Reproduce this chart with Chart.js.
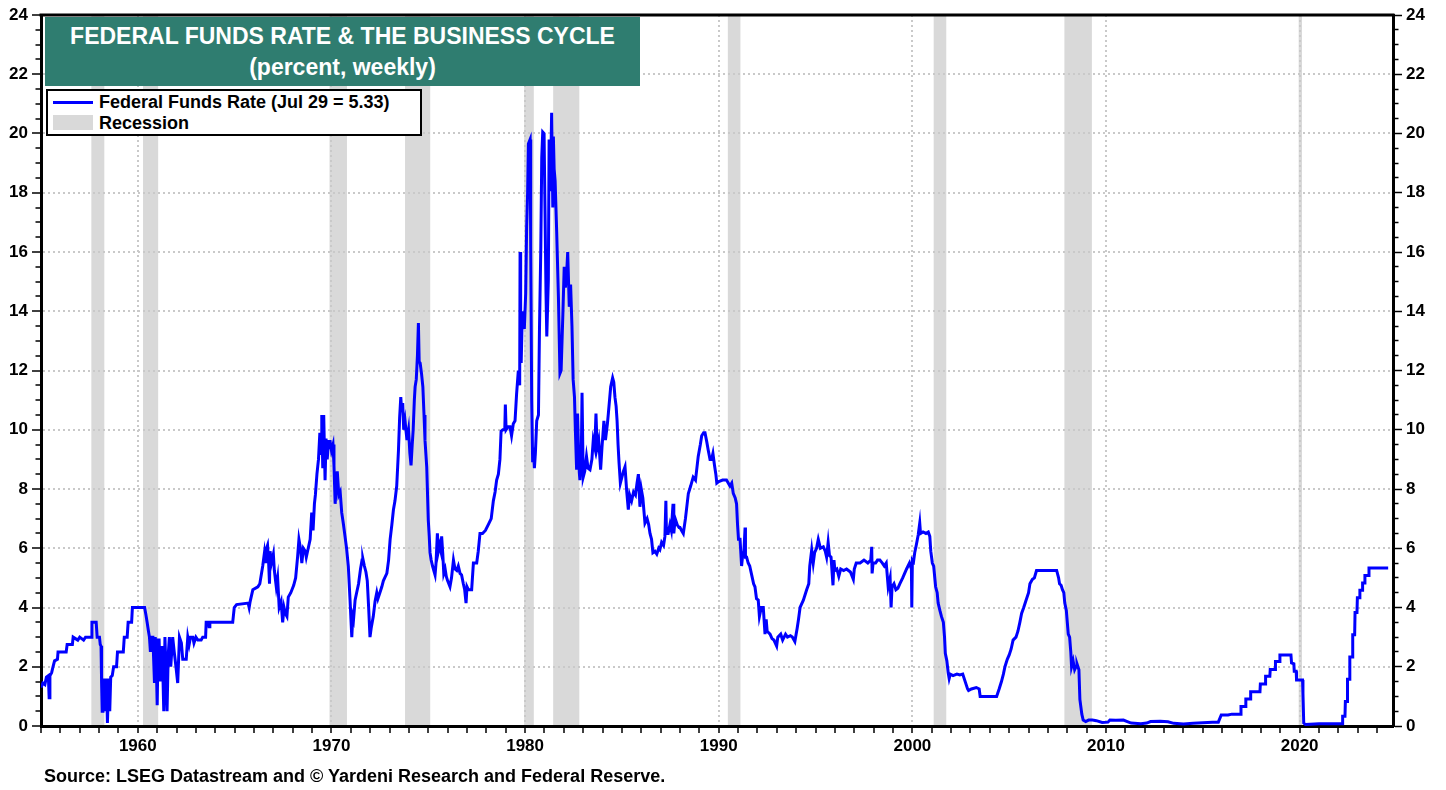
<!DOCTYPE html>
<html>
<head>
<meta charset="utf-8">
<script src="https://cdn.jsdelivr.net/npm/chart.js@4.4.1/dist/chart.umd.min.js"></script>
<style>
  html, body { margin: 0; padding: 0; background: #fff; }
  #wrap { position: relative; width: 1446px; height: 790px; overflow: hidden; font-family: "Liberation Sans", Arial, sans-serif; }
  #c { position: absolute; left: 0; top: 0; }
  #title { position: absolute; left: 45px; top: 17px; width: 595px; height: 69px; background: #2f7d70; color: #fff;
           font: bold 23px "Liberation Sans", Arial, sans-serif; text-align: center; line-height: 31px; padding-top: 4px; box-sizing: border-box; }
  #legend { position: absolute; left: 46px; top: 89px; width: 376px; height: 47px; border: 2px solid #000; background: #fff; box-sizing: border-box; }
  .lg-line { position: absolute; left: 5px; top: 10px; width: 40px; height: 3px; background: #0000ff; }
  .lg-rect { position: absolute; left: 5px; top: 24px; width: 40px; height: 15px; background: #d9d9d9; }
  .lg-text { position: absolute; left: 51px; font: bold 18px "Liberation Sans", Arial, sans-serif; line-height: 20px; color: #000; white-space: nowrap; }
  #source { position: absolute; left: 44px; top: 766px; font: bold 18px "Liberation Sans", Arial, sans-serif; line-height: 20px; color: #000; white-space: nowrap; }
</style>
</head>
<body>
<div id="wrap">
  <canvas id="c" width="1446" height="790"></canvas>
  <div id="title">FEDERAL FUNDS RATE &amp; THE BUSINESS CYCLE<br>(percent, weekly)</div>
  <div id="legend">
    <div class="lg-line"></div><div class="lg-text" style="top:1px">Federal Funds Rate (Jul 29 = 5.33)</div>
    <div class="lg-rect"></div><div class="lg-text" style="top:22px">Recession</div>
  </div>
  <div id="source">Source: LSEG Datastream and © Yardeni Research and Federal Reserve.</div>
</div>
<script>
// ---- Data (decimal year, percent) ----
const ffr1950s = [
  [1955.00,1.30],[1955.10,1.45],[1955.20,1.40],[1955.28,1.65],[1955.38,1.70],[1955.42,0.95],[1955.46,1.70],
  [1955.55,1.80],[1955.62,2.00],[1955.70,2.20],[1955.85,2.25],[1955.88,2.50],[1956.30,2.50],[1956.35,2.75],
  [1956.62,2.75],[1956.66,3.00],[1956.90,2.90],[1957.00,3.00],[1957.20,2.90],[1957.30,3.00],[1957.60,3.00],
  [1957.63,3.50],[1957.85,3.50],[1957.90,3.00],[1958.02,3.00],[1958.06,2.75],[1958.10,2.70],[1958.13,1.45],
  [1958.16,0.50],[1958.20,1.60],[1958.24,0.60],[1958.28,1.60],[1958.33,0.50],[1958.38,1.60],[1958.43,0.10],
  [1958.46,0.10],[1958.50,1.60],[1958.55,0.50],[1958.60,1.65],[1958.68,1.70],[1958.75,2.00],[1958.90,2.00],
  [1958.95,2.50],[1959.25,2.50],[1959.30,3.00],[1959.45,3.00],[1959.50,3.50],[1959.68,3.50],[1959.72,4.00]
];
const ffr1960s = [
  [1960.35,4.00],[1960.42,3.75],[1960.48,3.50],[1960.55,3.20],[1960.60,3.00],[1960.65,2.50],[1960.70,3.00],
  [1960.78,3.00],[1960.82,2.20],[1960.86,1.45],[1960.90,3.00],[1960.95,2.20],[1961.00,0.70],[1961.05,2.90],
  [1961.10,2.90],[1961.15,1.50],[1961.20,2.30],[1961.25,2.70],[1961.30,1.60],[1961.34,0.50],[1961.40,3.00],
  [1961.45,2.00],[1961.51,0.50],[1961.57,2.40],[1961.63,3.00],[1961.70,2.00],[1961.80,3.00],[1961.88,2.50],
  [1961.97,2.00],[1962.06,1.45],[1962.15,3.00],[1962.25,2.80],[1962.32,2.25],[1962.50,2.25],[1962.58,3.00],
  [1962.65,2.75],[1962.72,3.00],[1962.84,3.00],[1962.90,2.80],[1963.00,3.00],[1963.10,2.90],[1963.27,2.90],
  [1963.35,3.00],[1963.50,3.00],[1963.53,3.50],[1963.65,3.50],[1963.68,3.35],[1963.72,3.50],[1964.90,3.50],
  [1964.98,4.00],[1965.10,4.10],[1965.70,4.15],[1965.75,4.00],[1965.80,4.20],[1965.94,4.60],[1966.20,4.70],
  [1966.30,4.80],[1966.45,5.40],[1966.54,5.85],[1966.60,5.50],[1966.65,6.00],[1966.70,6.10],[1966.75,5.60],
  [1966.80,4.80],[1966.83,5.90],[1966.90,5.50],[1967.00,5.80],[1967.05,5.25],[1967.15,4.70],[1967.22,5.00],
  [1967.30,4.00],[1967.40,4.20],[1967.48,3.50],[1967.55,4.00],[1967.62,3.80],[1967.70,3.70],[1967.77,4.35],
  [1967.90,4.50],[1968.05,4.75],[1968.15,5.00],[1968.25,5.70],[1968.32,6.30],[1968.40,6.00],[1968.47,5.50],
  [1968.55,6.00],[1968.65,5.90],[1968.70,5.70],[1968.80,6.00],[1968.90,6.30],[1968.98,7.20],[1969.05,6.60],
  [1969.12,7.50],[1969.17,7.80],[1969.25,8.50],[1969.33,9.00],[1969.40,9.90],[1969.46,9.20],[1969.50,10.50],
  [1969.55,8.70],[1969.60,10.50],[1969.67,8.30],[1969.72,9.70],[1969.78,9.00],[1969.85,9.60],[1969.93,9.60]
];
const ffr1970s = [
  [1970.00,9.30],[1970.08,9.50],[1970.13,8.80],[1970.19,7.50],[1970.24,8.00],[1970.30,8.60],[1970.38,7.80],
  [1970.45,7.90],[1970.53,7.20],[1970.62,6.80],[1970.70,6.40],[1970.78,6.00],[1970.87,5.40],[1970.96,4.25],
  [1971.05,3.00],[1971.10,3.70],[1971.14,3.60],[1971.22,4.25],[1971.30,4.50],[1971.40,4.80],[1971.50,5.30],
  [1971.58,5.60],[1971.62,5.65],[1971.70,5.40],[1971.78,5.20],[1971.85,4.90],[1971.92,4.00],[1971.99,3.00],
  [1972.05,3.30],[1972.16,3.70],[1972.25,4.20],[1972.34,4.50],[1972.40,4.30],[1972.50,4.50],[1972.60,4.70],
  [1972.68,4.90],[1972.75,5.00],[1972.86,5.15],[1972.95,5.60],[1973.03,6.30],[1973.12,6.80],[1973.20,7.30],
  [1973.28,7.60],[1973.37,8.10],[1973.46,9.30],[1973.52,10.40],[1973.58,11.10],[1973.63,10.60],[1973.68,10.90],
  [1973.73,10.00],[1973.80,10.30],[1973.86,9.90],[1973.90,9.65],[1973.98,10.00],[1974.05,9.20],[1974.11,8.80],
  [1974.17,9.50],[1974.22,10.00],[1974.28,11.00],[1974.32,11.45],[1974.38,11.70],[1974.44,12.50],[1974.49,13.60],
  [1974.53,12.30],[1974.58,12.25],[1974.65,11.90],[1974.72,11.45],[1974.78,10.50],[1974.83,9.65],[1974.92,8.75],
  [1975.00,6.95],[1975.05,6.40],[1975.09,5.85],[1975.15,5.60],[1975.22,5.40],[1975.35,5.10],[1975.40,5.50],
  [1975.47,6.50],[1975.52,5.90],[1975.58,6.10],[1975.65,5.90],[1975.69,6.40],[1975.75,5.80],[1975.80,5.15],
  [1975.87,5.30],[1975.93,5.05],[1976.00,4.90],[1976.12,4.70],[1976.20,5.00],[1976.30,5.60],[1976.38,5.30],
  [1976.47,5.25],[1976.55,5.40],[1976.64,5.15],[1976.72,5.10],[1976.81,4.80],[1976.88,4.60],[1976.95,4.15],
  [1977.00,4.70],[1977.07,4.60],[1977.24,4.60],[1977.33,5.50],[1977.50,5.50],[1977.58,5.90],[1977.67,6.50],
  [1977.80,6.50],[1977.95,6.60],[1978.10,6.80],[1978.25,7.00],[1978.36,7.60],[1978.45,7.90],[1978.53,8.30],
  [1978.62,8.50],[1978.70,9.00],[1978.76,9.95],[1978.85,10.00],[1978.95,10.00],[1978.98,10.85],[1979.02,10.00],
  [1979.12,10.10],[1979.22,10.10],[1979.30,9.80],[1979.39,10.20],[1979.48,10.30],[1979.56,11.20],[1979.65,12.00],
  [1979.72,11.50],[1979.74,16.00],[1979.77,12.30],[1979.80,12.30],[1979.84,13.50],[1979.88,14.00],[1979.96,13.40]
];
const ffr1980s = [
  [1980.03,14.60],[1980.08,16.85],[1980.13,18.00],[1980.17,19.65],[1980.26,19.80],[1980.29,16.20],[1980.34,11.00],
  [1980.39,8.90],[1980.43,9.40],[1980.48,8.70],[1980.53,9.20],[1980.60,10.30],[1980.69,10.50],[1980.74,13.30],
  [1980.81,16.10],[1980.86,19.20],[1980.91,20.05],[1980.98,20.00],[1981.03,17.30],[1981.08,14.60],[1981.12,13.15],
  [1981.20,15.05],[1981.24,19.80],[1981.29,18.10],[1981.33,19.00],[1981.37,20.70],[1981.43,17.50],[1981.46,19.90],
  [1981.50,18.80],[1981.55,18.40],[1981.63,16.70],[1981.72,14.50],[1981.80,11.90],[1981.86,12.00],[1981.95,13.90],
  [1982.02,15.50],[1982.08,14.80],[1982.14,15.20],[1982.20,16.00],[1982.28,14.15],[1982.35,14.90],[1982.42,13.50],
  [1982.48,11.70],[1982.55,11.10],[1982.60,9.90],[1982.66,8.65],[1982.71,10.55],[1982.76,9.30],[1982.80,8.55],
  [1982.83,8.30],[1982.90,9.00],[1982.94,11.25],[1983.00,8.40],[1983.08,8.60],[1983.17,9.10],[1983.25,8.70],
  [1983.35,8.65],[1983.45,9.00],[1983.52,9.65],[1983.60,9.40],[1983.66,10.55],[1983.72,9.40],[1983.80,9.65],
  [1983.90,8.65],[1983.97,9.40],[1984.07,10.30],[1984.15,9.65],[1984.25,10.20],[1984.30,10.55],[1984.36,11.00],
  [1984.42,11.45],[1984.52,11.75],[1984.58,11.60],[1984.64,11.10],[1984.70,10.80],[1984.75,10.30],[1984.80,9.50],
  [1984.85,8.90],[1984.92,8.20],[1985.00,8.40],[1985.08,8.60],[1985.16,8.75],[1985.25,7.90],[1985.33,7.30],
  [1985.40,7.80],[1985.50,7.60],[1985.60,7.90],[1985.70,7.80],[1985.78,8.20],[1985.85,8.50],[1985.93,7.40],
  [1986.00,8.00],[1986.08,7.70],[1986.19,6.85],[1986.30,7.00],[1986.38,6.80],[1986.45,6.50],[1986.53,6.30],
  [1986.60,5.85],[1986.70,5.90],[1986.80,5.80],[1986.90,6.00],[1986.96,5.95],[1987.05,6.20],[1987.15,6.10],
  [1987.22,6.40],[1987.27,7.60],[1987.30,6.50],[1987.39,6.50],[1987.48,6.80],[1987.55,6.60],[1987.64,7.50],
  [1987.68,6.50],[1987.75,7.00],[1987.85,6.80],[1987.95,6.70],[1988.00,6.70],[1988.08,6.60],[1988.17,6.50],
  [1988.28,7.00],[1988.43,7.85],[1988.55,8.10],[1988.68,8.40],[1988.80,8.30],[1988.94,9.10],[1989.05,9.50],
  [1989.12,9.80],[1989.22,9.90],[1989.29,9.90],[1989.38,9.60],[1989.46,9.30],[1989.55,9.00],[1989.63,9.00],
  [1989.70,9.20],[1989.78,8.80],[1989.85,8.50],[1989.90,8.20]
];
const ffr1990s = [
  [1990.00,8.25],[1990.20,8.30],[1990.40,8.30],[1990.58,8.10],[1990.67,8.20],[1990.75,7.85],[1990.85,7.70],
  [1990.92,7.50],[1990.97,6.80],[1991.02,6.30],[1991.10,6.30],[1991.18,5.40],[1991.24,5.80],[1991.30,5.90],
  [1991.36,6.70],[1991.38,5.70],[1991.44,5.70],[1991.52,5.50],[1991.60,5.40],[1991.70,5.10],[1991.80,4.80],
  [1991.87,4.70],[1991.95,4.30],[1992.04,4.25],[1992.10,3.70],[1992.13,3.70],[1992.20,4.00],[1992.30,4.00],
  [1992.35,3.50],[1992.39,3.10],[1992.45,3.60],[1992.50,3.20],[1992.65,3.10],[1992.75,2.95],[1992.85,2.90],
  [1992.99,2.70],[1993.05,3.00],[1993.20,3.10],[1993.30,2.90],[1993.45,3.10],[1993.55,3.00],[1993.70,3.05],
  [1993.80,3.00],[1993.93,2.85],[1994.05,3.30],[1994.12,3.60],[1994.20,4.00],[1994.37,4.25],[1994.54,4.60],
  [1994.65,4.80],[1994.70,5.40],[1994.80,5.95],[1994.88,5.50],[1994.95,5.85],[1995.05,6.00],[1995.14,6.30],
  [1995.25,6.00],[1995.40,6.05],[1995.50,5.90],[1995.57,5.70],[1995.65,6.20],[1995.72,5.75],[1995.80,5.70],
  [1995.90,4.75],[1995.95,5.60],[1996.00,5.25],[1996.10,5.30],[1996.20,5.05],[1996.30,5.30],[1996.45,5.25],
  [1996.60,5.30],[1996.80,5.20],[1996.95,4.95],[1997.00,5.30],[1997.10,5.50],[1997.30,5.50],[1997.50,5.60],
  [1997.70,5.50],[1997.85,5.60],[1997.90,6.05],[1997.92,5.15],[1997.97,5.50],[1998.10,5.50],[1998.20,5.60],
  [1998.32,5.60],[1998.45,5.50],[1998.55,5.40],[1998.65,5.50],[1998.75,4.70],[1998.85,5.00],[1998.90,4.00],
  [1998.95,4.70],[1999.05,4.80],[1999.15,4.60],[1999.25,4.65],[1999.35,4.80],[1999.50,5.00],[1999.60,5.15],
  [1999.70,5.30],[1999.85,5.50],[1999.95,5.30],[1999.97,4.00]
];
const ffr2000s = [
  [2000.00,5.60],[2000.06,5.55],[2000.12,5.85],[2000.20,6.10],[2000.30,6.45],[2000.38,6.85],[2000.42,6.50],
  [2000.55,6.55],[2000.70,6.50],[2000.82,6.55],[2000.90,6.40],[2000.95,5.90],[2001.03,5.50],[2001.10,5.40],
  [2001.20,4.70],[2001.28,4.50],[2001.33,4.15],[2001.42,3.90],[2001.50,3.70],[2001.60,3.50],[2001.66,3.00],
  [2001.70,2.45],[2001.78,2.20],[2001.85,1.80],[2001.90,1.60],[2001.96,1.75],[2002.10,1.70],[2002.30,1.75],
  [2002.45,1.72],[2002.60,1.75],[2002.85,1.25],[2002.90,1.20],[2003.05,1.25],[2003.30,1.30],[2003.45,1.25],
  [2003.50,1.00],[2004.05,1.00],[2004.35,1.00],[2004.48,1.25],[2004.60,1.50],[2004.70,1.75],[2004.78,2.00],
  [2004.90,2.25],[2005.00,2.40],[2005.10,2.60],[2005.20,2.90],[2005.35,3.00],[2005.45,3.20],[2005.55,3.50],
  [2005.64,3.80],[2005.75,4.00],[2005.85,4.20],[2006.00,4.50],[2006.07,4.80],[2006.20,4.95],[2006.30,5.00],
  [2006.41,5.25],[2006.60,5.25],[2006.90,5.25],[2007.20,5.25],[2007.45,5.25],[2007.55,5.00],[2007.60,4.80],
  [2007.68,4.75],[2007.75,4.60],[2007.82,4.50],[2007.87,4.15],[2007.95,3.90],[2008.00,3.50],[2008.05,3.10],
  [2008.12,3.00],[2008.18,2.50],[2008.22,2.00],[2008.30,2.20],[2008.38,1.90],[2008.45,2.00],[2008.50,2.10],
  [2008.60,1.90],[2008.65,0.90],[2008.75,0.40],[2008.82,0.20],[2008.95,0.15],[2009.10,0.20],[2009.30,0.20],
  [2009.50,0.18],[2009.80,0.12]
];
const ffr2010s = [
  [2010.10,0.13],[2010.20,0.20],[2010.50,0.19],[2010.90,0.20],[2011.10,0.15],[2011.30,0.10],[2011.80,0.08],
  [2012.10,0.10],[2012.30,0.15],[2012.80,0.16],[2013.20,0.14],[2013.50,0.09],[2014.00,0.07],[2014.50,0.09],
  [2015.00,0.11],[2015.50,0.13],[2015.80,0.13],[2015.95,0.37],[2016.30,0.37],[2016.50,0.40],[2016.95,0.40],
  [2016.97,0.66],[2017.20,0.66],[2017.22,0.91],[2017.45,0.91],[2017.47,1.16],[2017.95,1.16],[2017.97,1.42],
  [2018.22,1.42],[2018.24,1.68],[2018.46,1.68],[2018.48,1.91],[2018.73,1.91],[2018.75,2.18],[2018.96,2.18],
  [2018.98,2.40],[2019.55,2.40],[2019.58,2.13],[2019.70,2.10],[2019.72,1.85],[2019.82,1.85],[2019.84,1.55]
];
const ffr2020s = [
  [2020.15,1.55],[2020.17,1.10],[2020.21,0.10],[2020.30,0.05],[2021.00,0.08],[2021.50,0.08],[2022.20,0.08],
  [2022.22,0.33],[2022.34,0.33],[2022.36,0.83],[2022.45,0.83],[2022.47,1.58],[2022.57,1.58],[2022.59,2.33],
  [2022.72,2.33],[2022.74,3.08],[2022.84,3.08],[2022.86,3.83],[2022.96,3.83],[2022.98,4.33],[2023.09,4.33],
  [2023.11,4.58],[2023.23,4.58],[2023.25,4.83],[2023.35,4.83],[2023.37,5.08],[2023.56,5.08],[2023.58,5.33],
  [2024.57,5.33]
];
const recessionStart = [1957.60, 1960.27, 1969.90, 1973.80, 1979.95, 1981.45, 1990.47, 2001.10, 2007.85, 2019.95];
const recessionEnd   = [1958.27, 1961.05, 1970.80, 1975.10, 1980.45, 1982.80, 1991.12, 2001.75, 2009.27, 2020.12];
const xTickLabels = [1960, 1970, 1980, 1990, 2000, 2010, 2020];
const yTickLabels = [0, 2, 4, 6, 8, 10, 12, 14, 16, 18, 20, 22, 24];

// ---- Build ----
const series = [].concat(ffr1950s, ffr1960s, ffr1970s, ffr1980s, ffr1990s, ffr2000s, ffr2010s, ffr2020s)
  .map(p => ({ x: p[0], y: p[1] }));

const FONT = '"Liberation Sans", Arial, sans-serif';
const GRID = '#c9c9c9';
const CLEAR = 'rgba(0,0,0,0)';

const recessionPlugin = {
  id: 'recessions',
  beforeDraw(chart) {
    const { ctx, chartArea, scales } = chart;
    ctx.save();
    ctx.fillStyle = '#d9d9d9';
    for (let i = 0; i < recessionStart.length; i++) {
      const x1 = scales.x.getPixelForValue(recessionStart[i]);
      const x2 = scales.x.getPixelForValue(recessionEnd[i]);
      ctx.fillRect(x1, chartArea.top, x2 - x1, chartArea.bottom - chartArea.top);
    }
    ctx.restore();
  },
  afterDraw(chart) {
    const { ctx, chartArea } = chart;
    ctx.save();
    ctx.strokeStyle = '#000';
    ctx.lineWidth = 3;
    ctx.beginPath();
    ctx.moveTo(chartArea.left - 1.5, chartArea.top);
    ctx.lineTo(chartArea.right + 1.5, chartArea.top);
    ctx.stroke();
    ctx.restore();
  }
};

function yTicks(scale) {
  const t = [];
  for (let v = 0; v <= 24.0001; v += 0.5) t.push({ value: Math.round(v * 2) / 2 });
  scale.ticks = t;
}
function yLabel(v) { return yTickLabels.includes(v) ? String(v) : ''; }

new Chart(document.getElementById('c'), {
  type: 'line',
  data: {
    datasets: [{
      label: 'Federal Funds Rate',
      data: series,
      borderColor: '#0000ff',
      borderWidth: 3,
      pointRadius: 0,
      tension: 0,
      fill: false
    }]
  },
  plugins: [recessionPlugin],
  options: {
    responsive: false,
    devicePixelRatio: 1,
    animation: false,
    layout: { padding: { top: 15, left: 0, right: 0, bottom: 0 } },
    plugins: { legend: { display: false }, title: { display: false }, tooltip: { enabled: false } },
    scales: {
      x: {
        type: 'linear',
        position: 'bottom',
        min: 1955.0,
        max: 2024.82,
        afterBuildTicks(scale) {
          const t = [];
          for (let y = 1955; y <= 2024; y++) t.push({ value: y });
          scale.ticks = t;
        },
        afterFit(scale) { scale.height = 64; },
        ticks: {
          autoSkip: false, maxRotation: 0, minRotation: 0, padding: 3,
          color: '#000', font: { family: FONT, size: 17, weight: 'bold' },
          callback: v => xTickLabels.includes(v) ? String(v) : ''
        },
        grid: {
          color: c => (c.tick && c.tick.value % 10 === 0) ? GRID : CLEAR,
          lineWidth: 2,
          tickLength: 7, tickColor: '#000', tickWidth: 1.5, drawOnChartArea: true
        },
        border: { display: true, color: '#000', width: 3, dash: [2, 3] }
      },
      y: {
        type: 'linear',
        position: 'left',
        min: 0, max: 24,
        afterBuildTicks: yTicks,
        afterFit(scale) { scale.width = 41; },
        ticks: {
          autoSkip: false, padding: 4, color: '#000',
          font: { family: FONT, size: 17, weight: 'bold' },
          callback: yLabel
        },
        grid: {
          color: c => (c.tick && c.tick.value % 2 === 0 && c.tick.value > 0 && c.tick.value < 24) ? GRID : CLEAR,
          lineWidth: 2,
          tickLength: 9, tickColor: '#000', tickWidth: 1.5,
          tickBorderDash: c => (c.tick && c.tick.value % 2 === 0) ? [] : [0, 3.5, 5, 100]
        },
        border: { display: true, color: '#000', width: 3, dash: [2, 3] }
      },
      y2: {
        type: 'linear',
        position: 'right',
        min: 0, max: 24,
        afterBuildTicks: yTicks,
        afterFit(scale) { scale.width = 53; },
        ticks: {
          autoSkip: false, padding: 4, color: '#000',
          font: { family: FONT, size: 17, weight: 'bold' },
          callback: yLabel
        },
        grid: {
          drawOnChartArea: false,
          tickLength: 9, tickColor: '#000', tickWidth: 1.5,
          tickBorderDash: c => (c.tick && c.tick.value % 2 === 0) ? [] : [3.5, 100]
        },
        border: { display: true, color: '#000', width: 3 }
      }
    }
  }
});
</script>
</body>
</html>
